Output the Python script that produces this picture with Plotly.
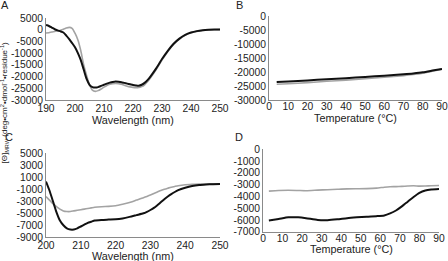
import plotly.graph_objects as go

W, H = 448, 261

# ---- Panel A: far-UV CD spectra ----
wl_A = [190, 191, 192, 193, 194, 195, 196, 197, 198, 199, 200, 201, 202, 203, 204, 205,
        206, 207, 208, 209, 210, 211, 212, 213, 214, 215, 216, 217, 218, 219, 220, 221,
        222, 223, 224, 225, 226, 228, 230, 232, 234, 236, 238, 240, 242, 244, 246, 248, 250]
A_black = [2000, 1600, 900, 200, -300, -700, -1200, -2500, -4000, -5700, -7500, -10000, -13000,
           -17000, -21000, -23500, -24500, -24700, -24500, -24000, -23500, -23000, -22600,
           -22300, -22100, -22200, -22400, -22700, -23000, -23300, -23600, -23800, -23900,
           -23500, -22700, -21500, -20000, -16500, -12500, -9000, -6000, -3800, -2200, -1200,
           -600, -250, -50, 50, 50]
A_gray = [-1400, -1300, -1000, -800, -500, -200, 200, 700, 1000, 600, -1500, -4400, -9000,
          -15000, -19500, -23500, -25800, -26300, -26000, -25300, -24500, -23800, -23300,
          -23000, -22900, -23000, -23300, -23700, -24100, -24400, -24600, -24700, -24700,
          -24300, -23500, -22200, -20600, -17000, -13000, -9300, -6300, -4000, -2400, -1300,
          -700, -300, -100, 0, 50]

# ---- Panel B: thermal melt ----
T_B = [4, 10, 20, 30, 40, 50, 60, 70, 75, 80, 85, 90]
B_black = [-23600, -23400, -23000, -22600, -22200, -21800, -21300, -20800, -20500, -20100, -19500, -18900]
B_gray = [-24400, -24200, -23800, -23300, -22900, -22400, -21900, -21300, -20900, -20400, -19700, -18950]

# ---- Panel C: far-UV CD spectra ----
wl_C = [200, 201, 202, 203, 204, 205, 206, 207, 208, 209, 210, 211, 212, 213, 214, 216, 218,
        220, 222, 224, 226, 228, 229, 230, 231, 232, 233, 234, 235, 236, 237, 238, 240, 242, 244,
        246, 248, 250]
C_black = [300, -1200, -3000, -4800, -6200, -7000, -7500, -7700, -7700, -7500, -7200, -6900,
           -6600, -6400, -6200, -6100, -6050, -6000, -5850, -5600, -5300, -5000, -4750, -4450,
           -4100, -3650, -3150, -2650, -2200, -1800, -1450, -1150, -750, -450, -280, -200, -150, -120]
C_gray = [-2200, -2800, -3400, -3900, -4300, -4600, -4700, -4700, -4600, -4500, -4400, -4300,
          -4200, -4100, -4000, -3900, -3850, -3750, -3500, -3200, -2800, -2400, -2180, -1950, -1700,
          -1450, -1200, -1000, -820, -650, -520, -400, -250, -180, -140, -110, -90, -80]

# ---- Panel D: thermal melt ----
T_D = [3, 8, 13, 18, 22, 28, 33, 38, 43, 48, 53, 58, 62, 65, 68, 71, 74, 77, 80, 83, 86, 90]
D_black = [-6050, -5920, -5780, -5780, -5850, -6000, -6020, -5950, -5850, -5780, -5720, -5680,
           -5620, -5450, -5200, -4850, -4450, -4050, -3700, -3500, -3420, -3380]
D_gray = [-3550, -3500, -3480, -3500, -3520, -3470, -3430, -3400, -3360, -3350, -3340, -3300,
          -3220, -3180, -3170, -3150, -3120, -3100, -3130, -3120, -3100, -3080]

# ---- ticks ----
A_xticks = [190, 200, 210, 220, 230, 240, 250]
A_yticks = [5000, 0, -5000, -10000, -15000, -20000, -25000, -30000]
B_xticks = [0, 10, 20, 30, 40, 50, 60, 70, 80, 90]
B_yticks = [0, -5000, -10000, -15000, -20000, -25000, -30000]
C_xticks = [200, 210, 220, 230, 240, 250]
C_yticks = [5000, 3000, 1000, -1000, -3000, -5000, -7000, -9000]
D_xticks = [0, 10, 20, 30, 40, 50, 60, 70, 80, 90]
D_yticks = [0, -1000, -2000, -3000, -4000, -5000, -6000, -7000]

x_title_wl = "Wavelength (nm)"
x_title_T = "Temperature (°C)"
y_title = "[Θ]<sub>MRW</sub> (deg•cm<sup>2</sup>•dmol<sup>-1</sup>•residue<sup>-1</sup>)"

BLACK = "#111111"
GRAY = "#a3a3a3"
FONT = "Liberation Sans, Arial, sans-serif"


def px_x(p):
    return p / W


def px_y(p):
    return 1 - p / H


fig = go.Figure()
panels = [
    ("", wl_A, A_black, A_gray),
    ("2", T_B, B_black, B_gray),
    ("3", wl_C, C_black, C_gray),
    ("4", T_D, D_black, D_gray),
]
for suf, xs, yb, yg in panels:
    fig.add_trace(go.Scatter(x=xs, y=yg, mode="lines", line=dict(color=GRAY, width=1.6, shape="spline", smoothing=0.6),
                             xaxis="x" + suf, yaxis="y" + suf, showlegend=False, hoverinfo="skip"))
    fig.add_trace(go.Scatter(x=xs, y=yb, mode="lines", line=dict(color=BLACK, width=2, shape="spline", smoothing=0.6),
                             xaxis="x" + suf, yaxis="y" + suf, showlegend=False, hoverinfo="skip"))

tickfont = dict(family=FONT, size=10.3, color="#222")
titlefont = dict(family=FONT, size=10.8, color="#222")


def xax(dom, rng, ticks, anchor, standoff):
    return dict(domain=dom, range=rng, tickvals=ticks, ticktext=[str(t) for t in ticks],
                showline=True, linecolor="#8a8a8a", linewidth=1, showgrid=False, zeroline=False,
                ticks="", tickfont=tickfont, anchor=anchor, automargin=False, fixedrange=True,
                ticklabelstandoff=standoff)


def yax(dom, rng, ticks, anchor):
    return dict(domain=dom, range=rng, tickvals=ticks, ticktext=[str(t) for t in ticks],
                showline=True, linecolor="#8a8a8a", linewidth=1, showgrid=False, zeroline=False,
                ticks="", tickfont=tickfont, anchor=anchor, automargin=False, fixedrange=True)


xdomA = [px_x(46), px_x(220)]
xdomB = [px_x(269), px_x(442)]
xdomD = [px_x(263), px_x(439)]
ydomA = [px_y(100), px_y(18)]
ydomB = [px_y(100), px_y(16)]
ydomC = [px_y(237.3), px_y(153.3)]
ydomD = [px_y(231.7), px_y(149.3)]

fig.update_layout(
    width=W, height=H,
    margin=dict(l=0, r=0, t=0, b=0, pad=0),
    paper_bgcolor="white", plot_bgcolor="white",
    font=dict(family=FONT, color="#222"),
    xaxis=xax(xdomA, [190, 250], A_xticks, "y", -1),
    yaxis=yax(ydomA, [-30000, 5000], A_yticks, "x"),
    xaxis2=xax(xdomB, [0, 90], B_xticks, "y2", -3),
    yaxis2=yax(ydomB, [-30000, 0], B_yticks, "x2"),
    xaxis3=xax(xdomA, [200, 250], C_xticks, "y3", -2),
    yaxis3=yax(ydomC, [-9000, 5000], C_yticks, "x3"),
    xaxis4=xax(xdomD, [0, 90], D_xticks, "y4", -3),
    yaxis4=yax(ydomD, [-7000, 0], D_yticks, "x4"),
)

# x-axis titles
for txt, x, y in [(x_title_wl, 133, 119.5), (x_title_T, 355, 117.5), (x_title_wl, 133, 255.5), (x_title_T, 351, 249)]:
    fig.add_annotation(text=txt, x=px_x(x), y=px_y(y), xref="paper", yref="paper",
                       showarrow=False, xanchor="center", yanchor="middle", font=titlefont)

letters = [("A", 5, 5), ("B", 239, 5), ("C", 9, 137), ("D", 239, 137)]
for t, x, y in letters:
    fig.add_annotation(text=t, x=px_x(x), y=px_y(y), xref="paper", yref="paper",
                       showarrow=False, xanchor="center", yanchor="middle",
                       font=dict(family=FONT, size=11, color="#222"))

fig.add_annotation(
    text=y_title,
    x=px_x(3.5), y=px_y(103), xref="paper", yref="paper", showarrow=False,
    textangle=-90, xanchor="center", yanchor="middle",
    font=dict(family=FONT, size=8, color="#222"))

fig.write_html("out.html", config={"displayModeBar": False, "staticPlot": True},
               post_script="document.body.style.margin='0';document.body.style.overflow='hidden';")
